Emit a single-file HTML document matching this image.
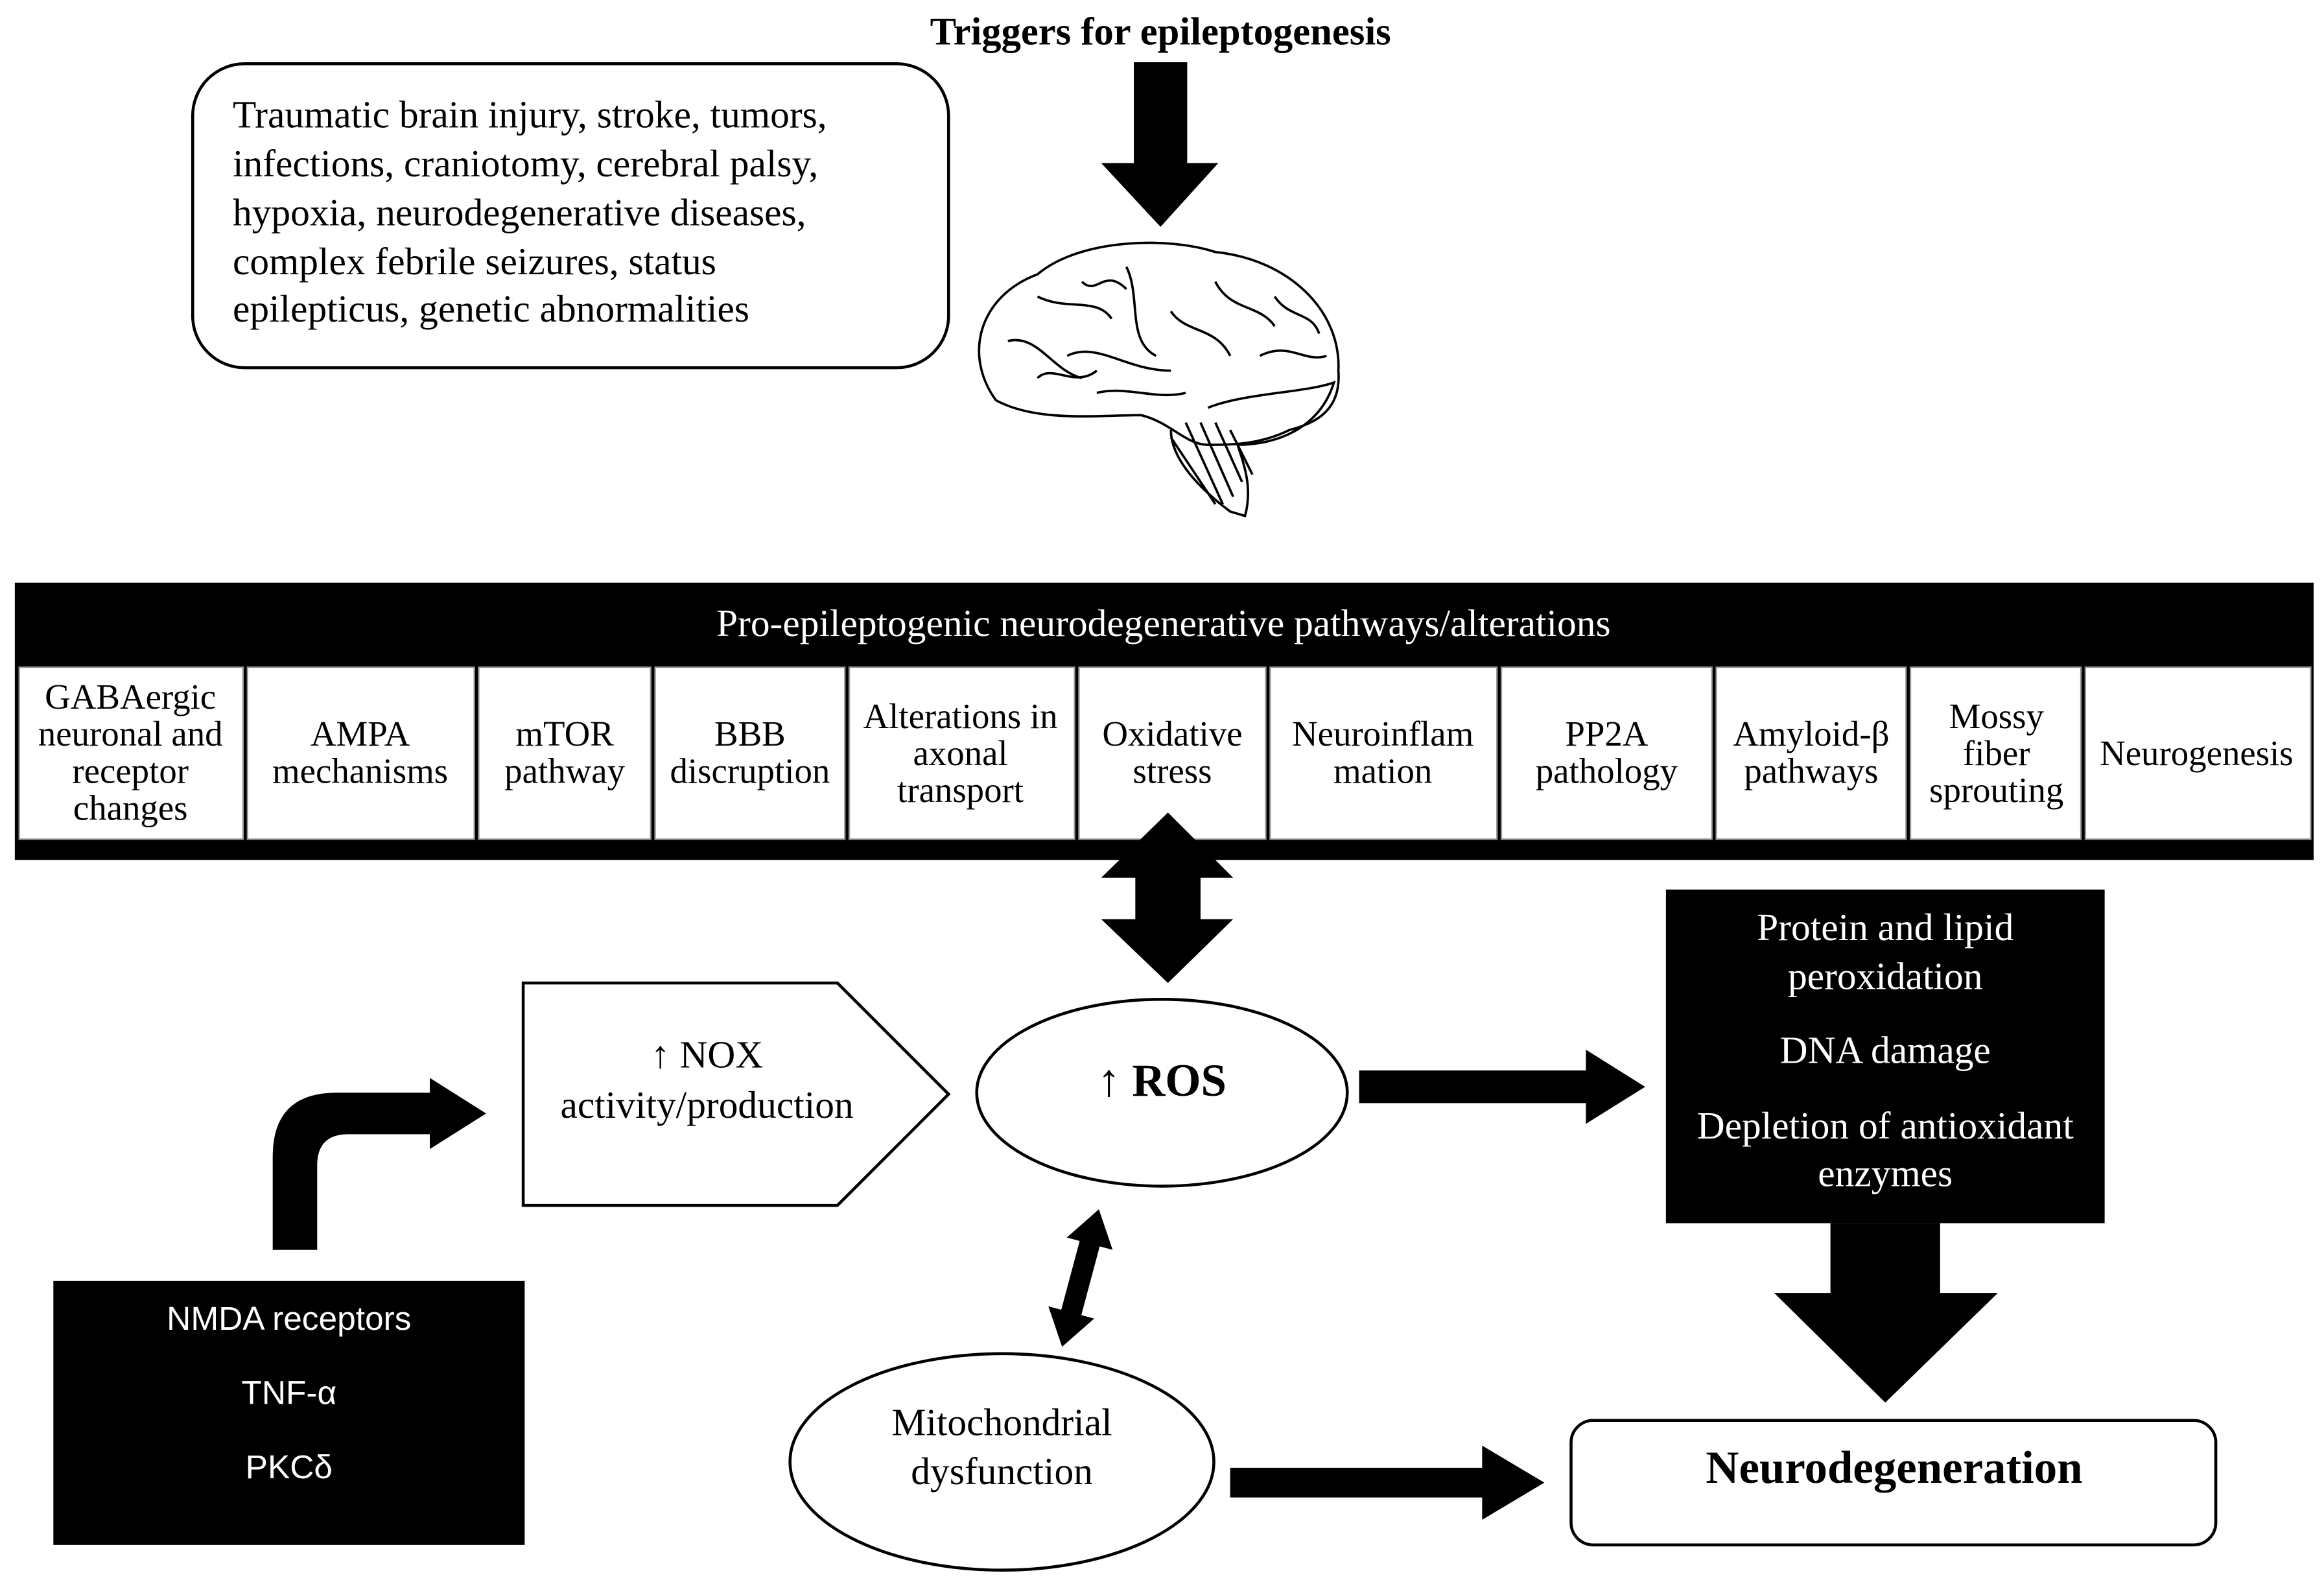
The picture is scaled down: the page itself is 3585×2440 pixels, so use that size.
<!DOCTYPE html>
<html><head><meta charset="utf-8"><style>
html,body{margin:0;padding:0;background:#fff;}
svg{display:block}
text{font-family:"Liberation Serif",serif;fill:#000}
.c{text-anchor:middle;font-size:24px}
.w{fill:#fff}
</style></head><body>
<svg width="3585" height="2440" viewBox="0 0 1568 1067" preserveAspectRatio="none" xmlns="http://www.w3.org/2000/svg">
<rect width="1568" height="1067" fill="#fff"/>
<text x="783" y="30" text-anchor="middle" font-size="26.5" font-weight="bold">Triggers for epileptogenesis</text>
<rect x="130" y="43" width="510" height="205" rx="35" fill="#fff" stroke="#000" stroke-width="2"/>
<g font-size="26">
<text x="157" y="86">Traumatic brain injury, stroke, tumors,</text>
<text x="157" y="119">infections, craniotomy, cerebral palsy,</text>
<text x="157" y="152">hypoxia, neurodegenerative diseases,</text>
<text x="157" y="185">complex febrile seizures, status</text>
<text x="157" y="217">epilepticus, genetic abnormalities</text>
</g>
<polygon points="765,42 801,42 801,110 822,110 783,153 743,110 765,110" fill="#000"/>
<!-- brain -->
<g fill="none" stroke="#000" stroke-width="1.6">
<path d="M672,270 C650,240 660,200 700,185 C730,160 790,160 820,170 C870,175 905,210 903,250 C905,275 890,285 870,290 C850,300 830,300 815,300 C800,300 790,285 770,280 C740,280 700,285 672,270 Z"/>
<path d="M790,290 C790,310 810,330 830,345 L840,348 C845,330 840,315 835,300"/>
<path d="M815,275 C840,265 880,265 900,258 C890,290 860,300 835,300"/>
<path d="M700,200 C720,210 740,200 750,215 M760,180 C770,200 760,230 780,240 M720,240 C740,230 760,250 790,250 M820,190 C830,210 850,205 860,220 M850,240 C870,230 880,245 895,240 M680,230 C700,225 710,250 730,255 M790,210 C800,225 820,220 830,240 M740,265 C760,260 780,270 800,265 M700,255 C710,245 725,262 740,250 M860,200 C870,215 885,210 890,225 M730,190 C740,200 745,180 760,195"/>
<path d="M800,285 L825,340 M810,285 L832,335 M820,285 L838,325 M830,290 L845,320 M790,295 L820,340"/>
</g>
<!-- band -->
<rect x="10" y="393" width="1551" height="187" fill="#000"/>
<text x="785" y="429" text-anchor="middle" font-size="26" class="w">Pro-epileptogenic neurodegenerative pathways/alterations</text>
<g fill="#fff" stroke="#999" stroke-width="1">
<rect x="13" y="450" width="151" height="116"/><rect x="167" y="450" width="153" height="116"/>
<rect x="323" y="450" width="116" height="116"/><rect x="442" y="450" width="128" height="116"/>
<rect x="573" y="450" width="152" height="116"/><rect x="728" y="450" width="126" height="116"/>
<rect x="857" y="450" width="153" height="116"/><rect x="1013" y="450" width="142" height="116"/>
<rect x="1158" y="450" width="128" height="116"/><rect x="1289" y="450" width="115" height="116"/>
<rect x="1407" y="450" width="152" height="116"/>
</g>
<g>
<text class="c" x="88" y="478">GABAergic</text><text class="c" x="88" y="503">neuronal and</text><text class="c" x="88" y="528">receptor</text><text class="c" x="88" y="553">changes</text>
<text class="c" x="243" y="503">AMPA</text><text class="c" x="243" y="528">mechanisms</text>
<text class="c" x="381" y="503">mTOR</text><text class="c" x="381" y="528">pathway</text>
<text class="c" x="506" y="503">BBB</text><text class="c" x="506" y="528">discruption</text>
<text class="c" x="648" y="491">Alterations in</text><text class="c" x="648" y="516">axonal</text><text class="c" x="648" y="541">transport</text>
<text class="c" x="791" y="503">Oxidative</text><text class="c" x="791" y="528">stress</text>
<text class="c" x="933" y="503">Neuroinflam</text><text class="c" x="933" y="528">mation</text>
<text class="c" x="1084" y="503">PP2A</text><text class="c" x="1084" y="528">pathology</text>
<text class="c" x="1222" y="503">Amyloid-β</text><text class="c" x="1222" y="528">pathways</text>
<text class="c" x="1347" y="491">Mossy</text><text class="c" x="1347" y="516">fiber</text><text class="c" x="1347" y="541">sprouting</text>
<text class="c" x="1482" y="516">Neurogenesis</text>
</g>
<polygon points="788,548 832,592 810,592 810,620 832,620 788,663 743,620 766,620 766,592 743,592" fill="#000"/>
<polygon points="353,663 565,663 640,738 565,813 353,813" fill="#fff" stroke="#000" stroke-width="2"/>
<text x="477" y="720" text-anchor="middle" font-size="26">↑ NOX</text>
<text x="477" y="754" text-anchor="middle" font-size="26">activity/production</text>
<ellipse cx="784" cy="737" rx="125" ry="63" fill="#fff" stroke="#000" stroke-width="2"/>
<text x="784" y="739" text-anchor="middle" font-size="31" font-weight="bold">↑ ROS</text>
<polygon points="917,722 1070,722 1070,708 1110,733 1070,758 1070,744 917,744" fill="#000"/>
<rect x="1124" y="600" width="296" height="225" fill="#000"/>
<g font-size="26" text-anchor="middle">
<text class="w" x="1272" y="634">Protein and lipid</text><text class="w" x="1272" y="667">peroxidation</text>
<text class="w" x="1272" y="717">DNA damage</text><text class="w" x="1272" y="768">Depletion of antioxidant</text>
<text class="w" x="1272" y="800">enzymes</text></g>
<polygon points="1235,825 1309,825 1309,872 1348,872 1272,946 1197,872 1235,872" fill="#000"/>
<rect x="1060" y="958" width="435" height="84" rx="15" fill="#fff" stroke="#000" stroke-width="2"/>
<text x="1278" y="1000" text-anchor="middle" font-size="31" font-weight="bold">Neurodegeneration</text>
<ellipse cx="676" cy="986" rx="143" ry="73" fill="#fff" stroke="#000" stroke-width="2"/>
<text x="676" y="968" text-anchor="middle" font-size="26">Mitochondrial</text>
<text x="676" y="1001" text-anchor="middle" font-size="26">dysfunction</text>
<polygon points="830,990 1000,990 1000,975 1042,1000 1000,1025 1000,1010 830,1010" fill="#000"/>
<g transform="translate(729,862) rotate(15)">
<polygon points="0,-48 16,-24 7,-24 7,24 16,24 0,48 -16,24 -7,24 -7,-24 -16,-24" fill="#000"/>
</g>
<path d="M184,843 L184,780 Q184,737 227,737 L290,737 L290,727 L328,751 L290,775 L290,765 L235,765 Q214,765 214,786 L214,843 Z" fill="#000"/>
<rect x="36" y="864" width="318" height="178" fill="#000"/>
<g font-size="22.5" text-anchor="middle">
<text class="w" x="195" y="897" style="font-family:'Liberation Sans',sans-serif">NMDA receptors</text>
<text class="w" x="195" y="947" style="font-family:'Liberation Sans',sans-serif">TNF-α</text>
<text class="w" x="195" y="997" style="font-family:'Liberation Sans',sans-serif">PKCδ</text></g>
</svg>
</body></html>
